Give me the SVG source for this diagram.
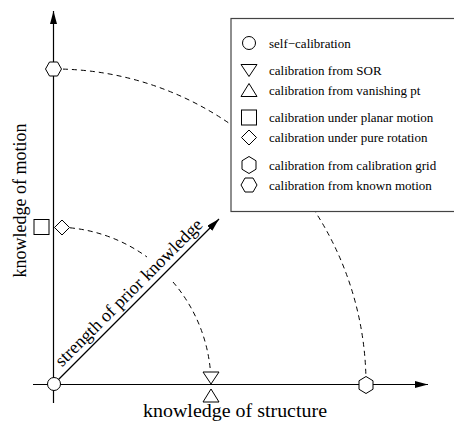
<svg xmlns="http://www.w3.org/2000/svg" width="454" height="423" viewBox="0 0 454 423">
<style>
.sym{fill:#fff;stroke:#000;stroke-width:1}
.ax{stroke:#000;stroke-width:1.2;fill:none}
.dash{stroke:#000;stroke-width:1;fill:none;stroke-dasharray:5 4}
.lbl{font-size:18px;fill:#000}
.leg{font-size:13px;fill:#000}
</style>
<defs>
<marker id="arr" markerUnits="userSpaceOnUse" markerWidth="14" markerHeight="8" refX="13" refY="3.5" orient="auto">
<path d="M0,0 L13,3.5 L0,7 z" fill="#000"/>
</marker>
<circle id="circ" r="6.5"/>
<polygon id="tdown" points="-8,-6 8,-6 0,6"/>
<polygon id="tup" points="0,-6.5 8,6.5 -8,6.5"/>
<rect id="sq" x="-7.5" y="-7.5" width="15" height="15"/>
<polygon id="dia" points="0,-7.5 7.5,0 0,7.5 -7.5,0"/>
<polygon id="hexH" points="-8,0 -4,-7 4,-7 8,0 4,7 -4,7"/>
<polygon id="hexV" points="0,-8.5 7,-4.25 7,4.25 0,8.5 -7,4.25 -7,-4.25"/>
</defs>
<rect width="454" height="423" fill="#fff"/>

<g id="connectors">
<path class="dash" d="M63,69.1 A312,315 0 0,1 365.9,376"/>
<path class="dash" d="M70,227.8 A157,157 0 0,1 147,257"/>
<path class="dash" d="M173,282 A157,157 0 0,1 210.5,372"/>
</g>

<g id="legend" font-family="'Liberation Serif', 'Times New Roman', serif">
<rect x="231" y="18.5" width="240" height="193" fill="#fff" stroke="#444" stroke-width="1.2"/>
<use href="#circ" class="sym" x="249" y="43"/>
<text class="leg" x="269" y="47.5">self−calibration</text>
<use href="#tdown" class="sym" x="249" y="70.5"/>
<text class="leg" x="269" y="75">calibration from SOR</text>
<use href="#tup" class="sym" x="249" y="90"/>
<text class="leg" x="269" y="94.5">calibration from vanishing pt</text>
<use href="#sq" class="sym" x="249" y="117.5"/>
<text class="leg" x="269" y="122">calibration under planar motion</text>
<use href="#dia" class="sym" x="249" y="137.5"/>
<text class="leg" x="269" y="142">calibration under pure rotation</text>
<use href="#hexV" class="sym" x="249" y="165"/>
<text class="leg" x="269" y="169.5">calibration from calibration grid</text>
<use href="#hexH" class="sym" x="249" y="185"/>
<text class="leg" x="269" y="189.5">calibration from known motion</text>
</g>

<g id="axes" font-family="'Liberation Serif', 'Times New Roman', serif">
<line class="ax" x1="53.5" y1="403" x2="53.5" y2="11" marker-end="url(#arr)"/>
<line class="ax" x1="33" y1="384.5" x2="428" y2="384.5" marker-end="url(#arr)"/>
<line class="ax" x1="54" y1="384" x2="219" y2="219" marker-end="url(#arr)"/>
<text class="lbl" transform="translate(62,367.5) rotate(-45)" x="0" y="0">strength of prior knowledge</text>
<text class="lbl" x="143" y="416.5" textLength="184" lengthAdjust="spacingAndGlyphs">knowledge of structure</text>
<text class="lbl" transform="translate(25.5,200.5) rotate(-90)" x="0" y="0" text-anchor="middle">knowledge of motion</text>
</g>

<g id="node-self-calibration"><use href="#circ" class="sym" x="54" y="384"/></g>
<g id="node-known-motion"><use href="#hexH" class="sym" x="53.5" y="69"/></g>
<g id="node-calibration-grid"><use href="#hexV" class="sym" x="366" y="385"/></g>
<g id="node-planar-motion"><use href="#sq" class="sym" x="41.5" y="227"/></g>
<g id="node-pure-rotation"><use href="#dia" class="sym" x="62" y="227.5"/></g>
<g id="node-sor"><use href="#tdown" class="sym" x="211" y="378"/></g>
<g id="node-vanishing-pt"><use href="#tup" class="sym" x="211" y="395.5"/></g>
</svg>
